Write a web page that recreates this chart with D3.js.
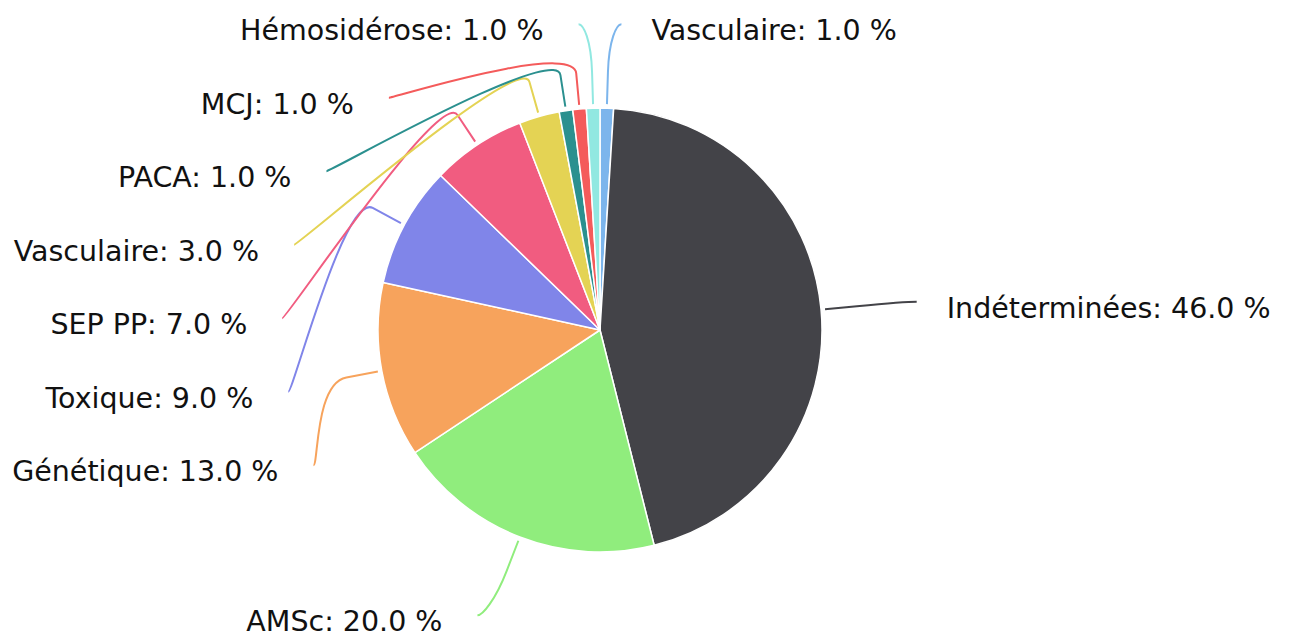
<!DOCTYPE html>
<meta charset="utf-8">
<style>
 body { margin: 0; background: #fff; }
 svg { display: block; }
 .label {
  font-family: "DejaVu Sans", Verdana, sans-serif;
  font-size: 28.5px;
  fill: #111;
 }
 .connector { fill: none; stroke-width: 2; }
 .slice { stroke: #fff; stroke-width: 1.5; stroke-linejoin: round; }
</style>
<body>
<div id="chart"></div>
<script src="https://cdn.jsdelivr.net/npm/d3@7"></script>
<script>
// data, clockwise from 12 o'clock
var categories = ["Vasculaire", "Indéterminées", "AMSc", "Génétique", "Toxique",
                  "SEP PP", "Vasculaire", "PACA", "MCJ", "Hémosidérose"];
var values = [1.0, 46.0, 20.0, 13.0, 9.0, 7.0, 3.0, 1.0, 1.0, 1.0];
var colors = ["#7cb5ec", "#434348", "#90ed7d", "#f7a35c", "#8085e9",
              "#f15c80", "#e4d354", "#2b908f", "#f45b5b", "#91e8e1"];

(function(){
  var width = 1292, height = 639;
  var cx = 600, cy = 330, r = 222;
  var labelRadius = 306, pad = 12;   // circle the label anchors sit on
  var spacing = 73.5, top = 22, bottom = 622;
  var fmt = d3.format(".1f");

  var svg = d3.select("#chart").append("svg")
      .attr("width", width)
      .attr("height", height);

  var items = categories.map(function(c, i) {
    return { name: c, value: values[i], color: colors[i] };
  });

  var pie = d3.pie().sort(null).value(function(d) { return d.value; });
  var arcs = pie(items);
  var arc = d3.arc().innerRadius(0).outerRadius(r);

  function pt(a, rho) { return [cx + rho * Math.sin(a), cy - rho * Math.cos(a)]; }

  // natural label positions
  arcs.forEach(function(d) {
    d.mid = (d.startAngle + d.endAngle) / 2;
    d.left = d.mid > Math.PI;
    d.naturalY = pt(d.mid, labelRadius)[1];
  });

  // push labels apart on each side
  [true, false].forEach(function(side) {
    var list = arcs.filter(function(d) { return d.left === side; })
      .sort(function(a, b) { return a.naturalY - b.naturalY; });
    var prev = -Infinity;
    list.forEach(function(d) {
      d.y = Math.max(d.naturalY, prev + spacing, top);
      prev = d.y;
    });
    var next = Infinity;
    list.slice().reverse().forEach(function(d) {
      d.y = Math.min(d.y, next - spacing, bottom);
      next = d.y;
    });
  });

  function getX(y, left) {
    var s = Math.max(-1, Math.min(1, (y - cy) / labelRadius));
    var dx = Math.cos(Math.asin(s)) * labelRadius + pad;
    return cx + (left ? -dx : dx);
  }

  svg.append("g").selectAll("path")
      .data(arcs)
    .enter().append("path")
      .attr("class", "slice")
      .attr("transform", "translate(" + cx + "," + cy + ")")
      .attr("d", arc)
      .attr("fill", function(d) { return d.data.color; });

  var g = svg.append("g");

  g.selectAll("path")
      .data(arcs)
    .enter().append("path")
      .attr("class", "connector")
      .attr("stroke", function(d) { return d.data.color; })
      .attr("d", function(d) {
        var x = getX(d.y, d.left);
        var edge = pt(d.mid, r + 4);
        var brk = pt(d.mid, r + 36);
        var c1x = x + (d.left ? 5 : -5);
        return "M" + x + "," + d.y +
          "C" + c1x + "," + d.y + " " +
          (2 * brk[0] - edge[0]) + "," + (2 * brk[1] - edge[1]) + " " +
          brk[0] + "," + brk[1] +
          "L" + edge[0] + "," + edge[1];
      });

  g.selectAll("text")
      .data(arcs)
    .enter().append("text")
      .attr("class", "label")
      .attr("x", function(d) { return getX(d.y, d.left) + (d.left ? -35 : 30); })
      .attr("y", function(d) { return d.y + 16; })
      .attr("text-anchor", function(d) { return d.left ? "end" : "start"; })
      .text(function(d) { return d.data.name + ": " + fmt(d.data.value) + " %"; });
})();
</script>
</body>
